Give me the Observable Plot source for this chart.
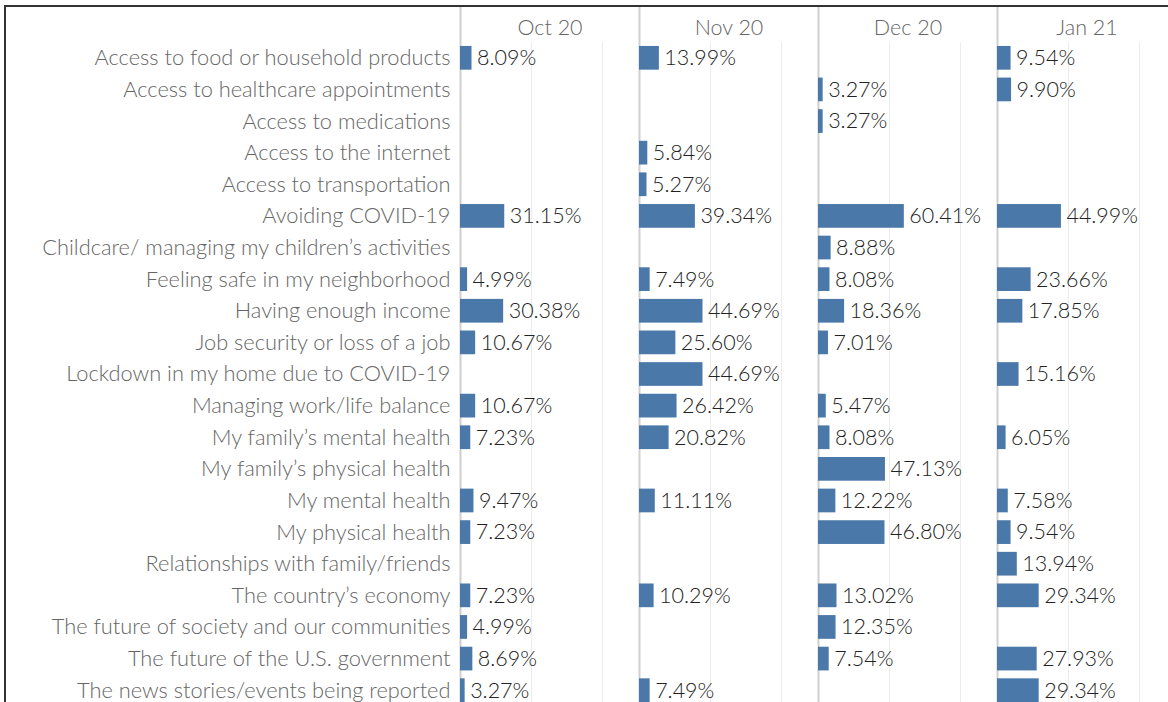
<!DOCTYPE html>
<html>
<head>
<meta charset="utf-8">
<script src="https://cdn.jsdelivr.net/npm/d3@7"></script>
<script src="https://cdn.jsdelivr.net/npm/@observablehq/plot@0.6"></script>
<style>
  html, body { margin: 0; padding: 0; background: #fff; overflow: hidden; }
  #chart { position: absolute; left: 0; top: 0; width: 1176px; }
  #chart svg { max-width: none !important; width: 1176px !important; height: 706px !important; }
  #frame { position: absolute; left: 4px; top: 5px; width: 1400px; height: 900px;
           border-left: 2px solid #333; border-top: 2px solid #333; pointer-events: none; }
</style>
</head>
<body>
<div id="chart"></div>
<div id="frame"></div>
<script>
const months = ["Oct 20", "Nov 20", "Dec 20", "Jan 21"];
const categories = [
  "Access to food or household products",
  "Access to healthcare appointments",
  "Access to medications",
  "Access to the internet",
  "Access to transportation",
  "Avoiding COVID-19",
  "Childcare/ managing my children’s activities",
  "Feeling safe in my neighborhood",
  "Having enough income",
  "Job security or loss of a job",
  "Lockdown in my home due to COVID-19",
  "Managing work/life balance",
  "My family’s mental health",
  "My family’s physical health",
  "My mental health",
  "My physical health",
  "Relationships with family/friends",
  "The country’s economy",
  "The future of society and our communities",
  "The future of the U.S. government",
  "The news stories/events being reported"
];
const oct20 = [8.09, null, null, null, null, 31.15, null, 4.99, 30.38, 10.67, null, 10.67, 7.23, null, 9.47, 7.23, null, 7.23, 4.99, 8.69, 3.27];
const nov20 = [13.99, null, null, 5.84, 5.27, 39.34, null, 7.49, 44.69, 25.60, 44.69, 26.42, 20.82, null, 11.11, null, null, 10.29, null, null, 7.49];
const dec20 = [null, 3.27, 3.27, null, null, 60.41, 8.88, 8.08, 18.36, 7.01, null, 5.47, 8.08, 47.13, 12.22, 46.80, null, 13.02, 12.35, 7.54, null];
const jan21 = [9.54, 9.90, null, null, null, 44.99, null, 23.66, 17.85, null, 15.16, null, 6.05, null, 7.58, 9.54, 13.94, 29.34, null, 27.93, 29.34];
const gridTicks = [50, 100];

const series = [oct20, nov20, dec20, jan21];
const rows = [];
months.forEach((m, mi) => {
  series[mi].forEach((v, ci) => {
    if (v != null) rows.push({month: m, category: categories[ci], value: v});
  });
});

const FONT = "Lato";
const chart = Plot.plot({
  width: 1176,
  height: 706,
  marginLeft: 460,
  marginRight: 0,
  marginTop: 42,
  marginBottom: 0,
  style: {fontFamily: FONT, background: "transparent", overflow: "visible"},
  fx: {domain: months, padding: 0, round: false, label: null},
  x: {domain: [0, 126], axis: null},
  y: {domain: categories, paddingInner: 0.25, paddingOuter: 0.125, round: false, label: null},
  marks: [
    Plot.ruleX(gridTicks, {x: d => d, stroke: "#ececec", strokeWidth: 1}),
    Plot.ruleX([0], {x: d => d, stroke: "#cfcfcf", strokeWidth: 2, insetTop: -35}),
    Plot.barX(rows, {fx: "month", y: "category", x: "value", fill: "#4a78a8"}),
    Plot.text(rows, {fx: "month", y: "category", x: "value",
      text: d => d.value.toFixed(2) + "%", textAnchor: "start", dx: 5,
      fill: "#222", fontSize: 21.5, fontWeight: 300}),
    Plot.axisY({tickSize: 0, tickPadding: 10, fontSize: 21.8, fontWeight: 300, fill: "#666", label: null}),
    Plot.axisFx({anchor: "top", tickSize: 0, tickPadding: 8, fontSize: 21.5, fontWeight: 300, fill: "#666", label: null})
  ]
});
document.getElementById("chart").appendChild(chart);
</script>
</body>
</html>
